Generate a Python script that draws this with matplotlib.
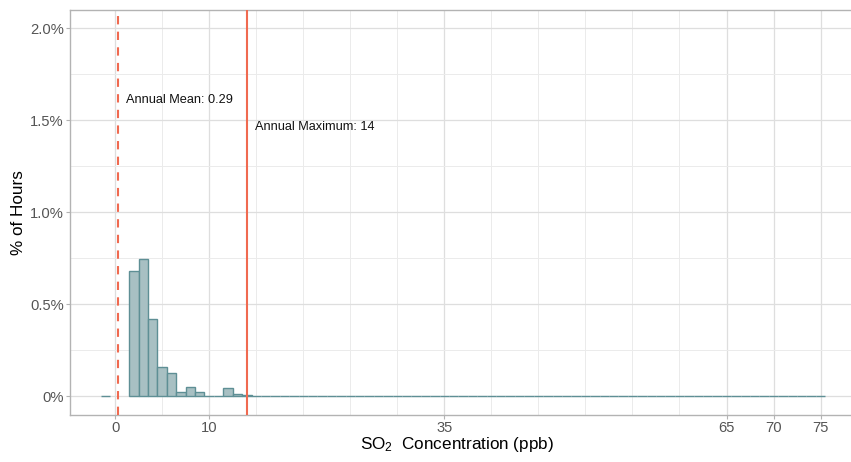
import matplotlib
matplotlib.use("Agg")
import matplotlib.pyplot as plt
import numpy as np

plt.rcParams['font.family'] = ['Liberation Sans', 'DejaVu Sans']
plt.rcParams['mathtext.fontset'] = 'custom'
plt.rcParams['mathtext.rm'] = 'Liberation Sans'
plt.rcParams['mathtext.it'] = 'Liberation Sans:italic'

# Histogram data: bin centers (ppb) and % of hours
bin_centers = [-1, 2, 3, 4, 5, 6, 7, 8, 9, 10, 11, 12, 13, 14] + list(range(15, 76))
pct_hours = [0.004, 0.683, 0.748, 0.42, 0.159, 0.125, 0.024, 0.054, 0.024, 0.0, 0.0,
             0.045, 0.011, 0.009] + [0.0] * len(range(15, 76))

annual_mean = 0.29
annual_max = 14

x_ticks = [0, 10, 35, 65, 70, 75]
y_ticks = [0, 0.5, 1.0, 1.5, 2.0]
y_tick_labels = ["0%", "0.5%", "1.0%", "1.5%", "2.0%"]

W, H = 851, 462
fig = plt.figure(figsize=(W / 100, H / 100), dpi=100)
ax = fig.add_axes([70 / W, (H - 414.9) / H, (861 - 70) / W, (414.9 - 9.7) / H])

fill_c = '#A8C0C3'
edge_c = '#5E8F95'
line_c = '#F06A50'

ax.bar(bin_centers, pct_hours, width=1.0, color=fill_c, edgecolor=edge_c,
       linewidth=1.0, zorder=3)

ax.axvline(annual_mean, color=line_c, linestyle=(0, (4, 3.5)), linewidth=1.5, zorder=4)
ax.axvline(annual_max, color=line_c, linestyle='-', linewidth=1.5, zorder=4)

ax.text(annual_mean + 0.9, 1.61, f"Annual Mean: {annual_mean}", fontsize=9.2,
        color='#111111', va='center', ha='left', zorder=5)
ax.text(annual_max + 0.9, 1.465, f"Annual Maximum: {annual_max}", fontsize=9.2,
        color='#111111', va='center', ha='left', zorder=5)

ax.set_xlim(-4.8, 79.3)
ax.set_ylim(-0.1, 2.1)

ax.set_xticks(x_ticks)
ax.set_xticklabels([str(t) for t in x_ticks])
ax.set_xticks(np.arange(5, 80, 5), minor=True)
ax.set_yticks(y_ticks)
ax.set_yticklabels(y_tick_labels)
ax.set_yticks([0.25, 0.75, 1.25, 1.75], minor=True)

ax.grid(True, which='major', color='#DEDEDE', linewidth=0.9, zorder=0)
ax.grid(True, which='minor', color='#EBEBEB', linewidth=0.7, zorder=0)
ax.set_axisbelow(True)

ax.tick_params(axis='both', which='major', length=3, color='#B3B3B3', width=0.8,
               labelsize=10.6, labelcolor='#555555', pad=1.5)
ax.tick_params(axis='both', which='minor', length=0)

for side in ['left', 'bottom', 'top']:
    ax.spines[side].set_color('#B3B3B3')
    ax.spines[side].set_linewidth(1.0)
ax.spines['right'].set_visible(False)

ax.set_xlabel(r"SO$_2$  Concentration (ppb)", fontsize=12.3, color='#000000', labelpad=0)
ax.xaxis.label.set_x((457 - 70) / (861 - 70))
ax.set_ylabel("% of Hours", fontsize=12.3, color='#000000', labelpad=2.5)

fig.savefig("out.png", dpi=100)
